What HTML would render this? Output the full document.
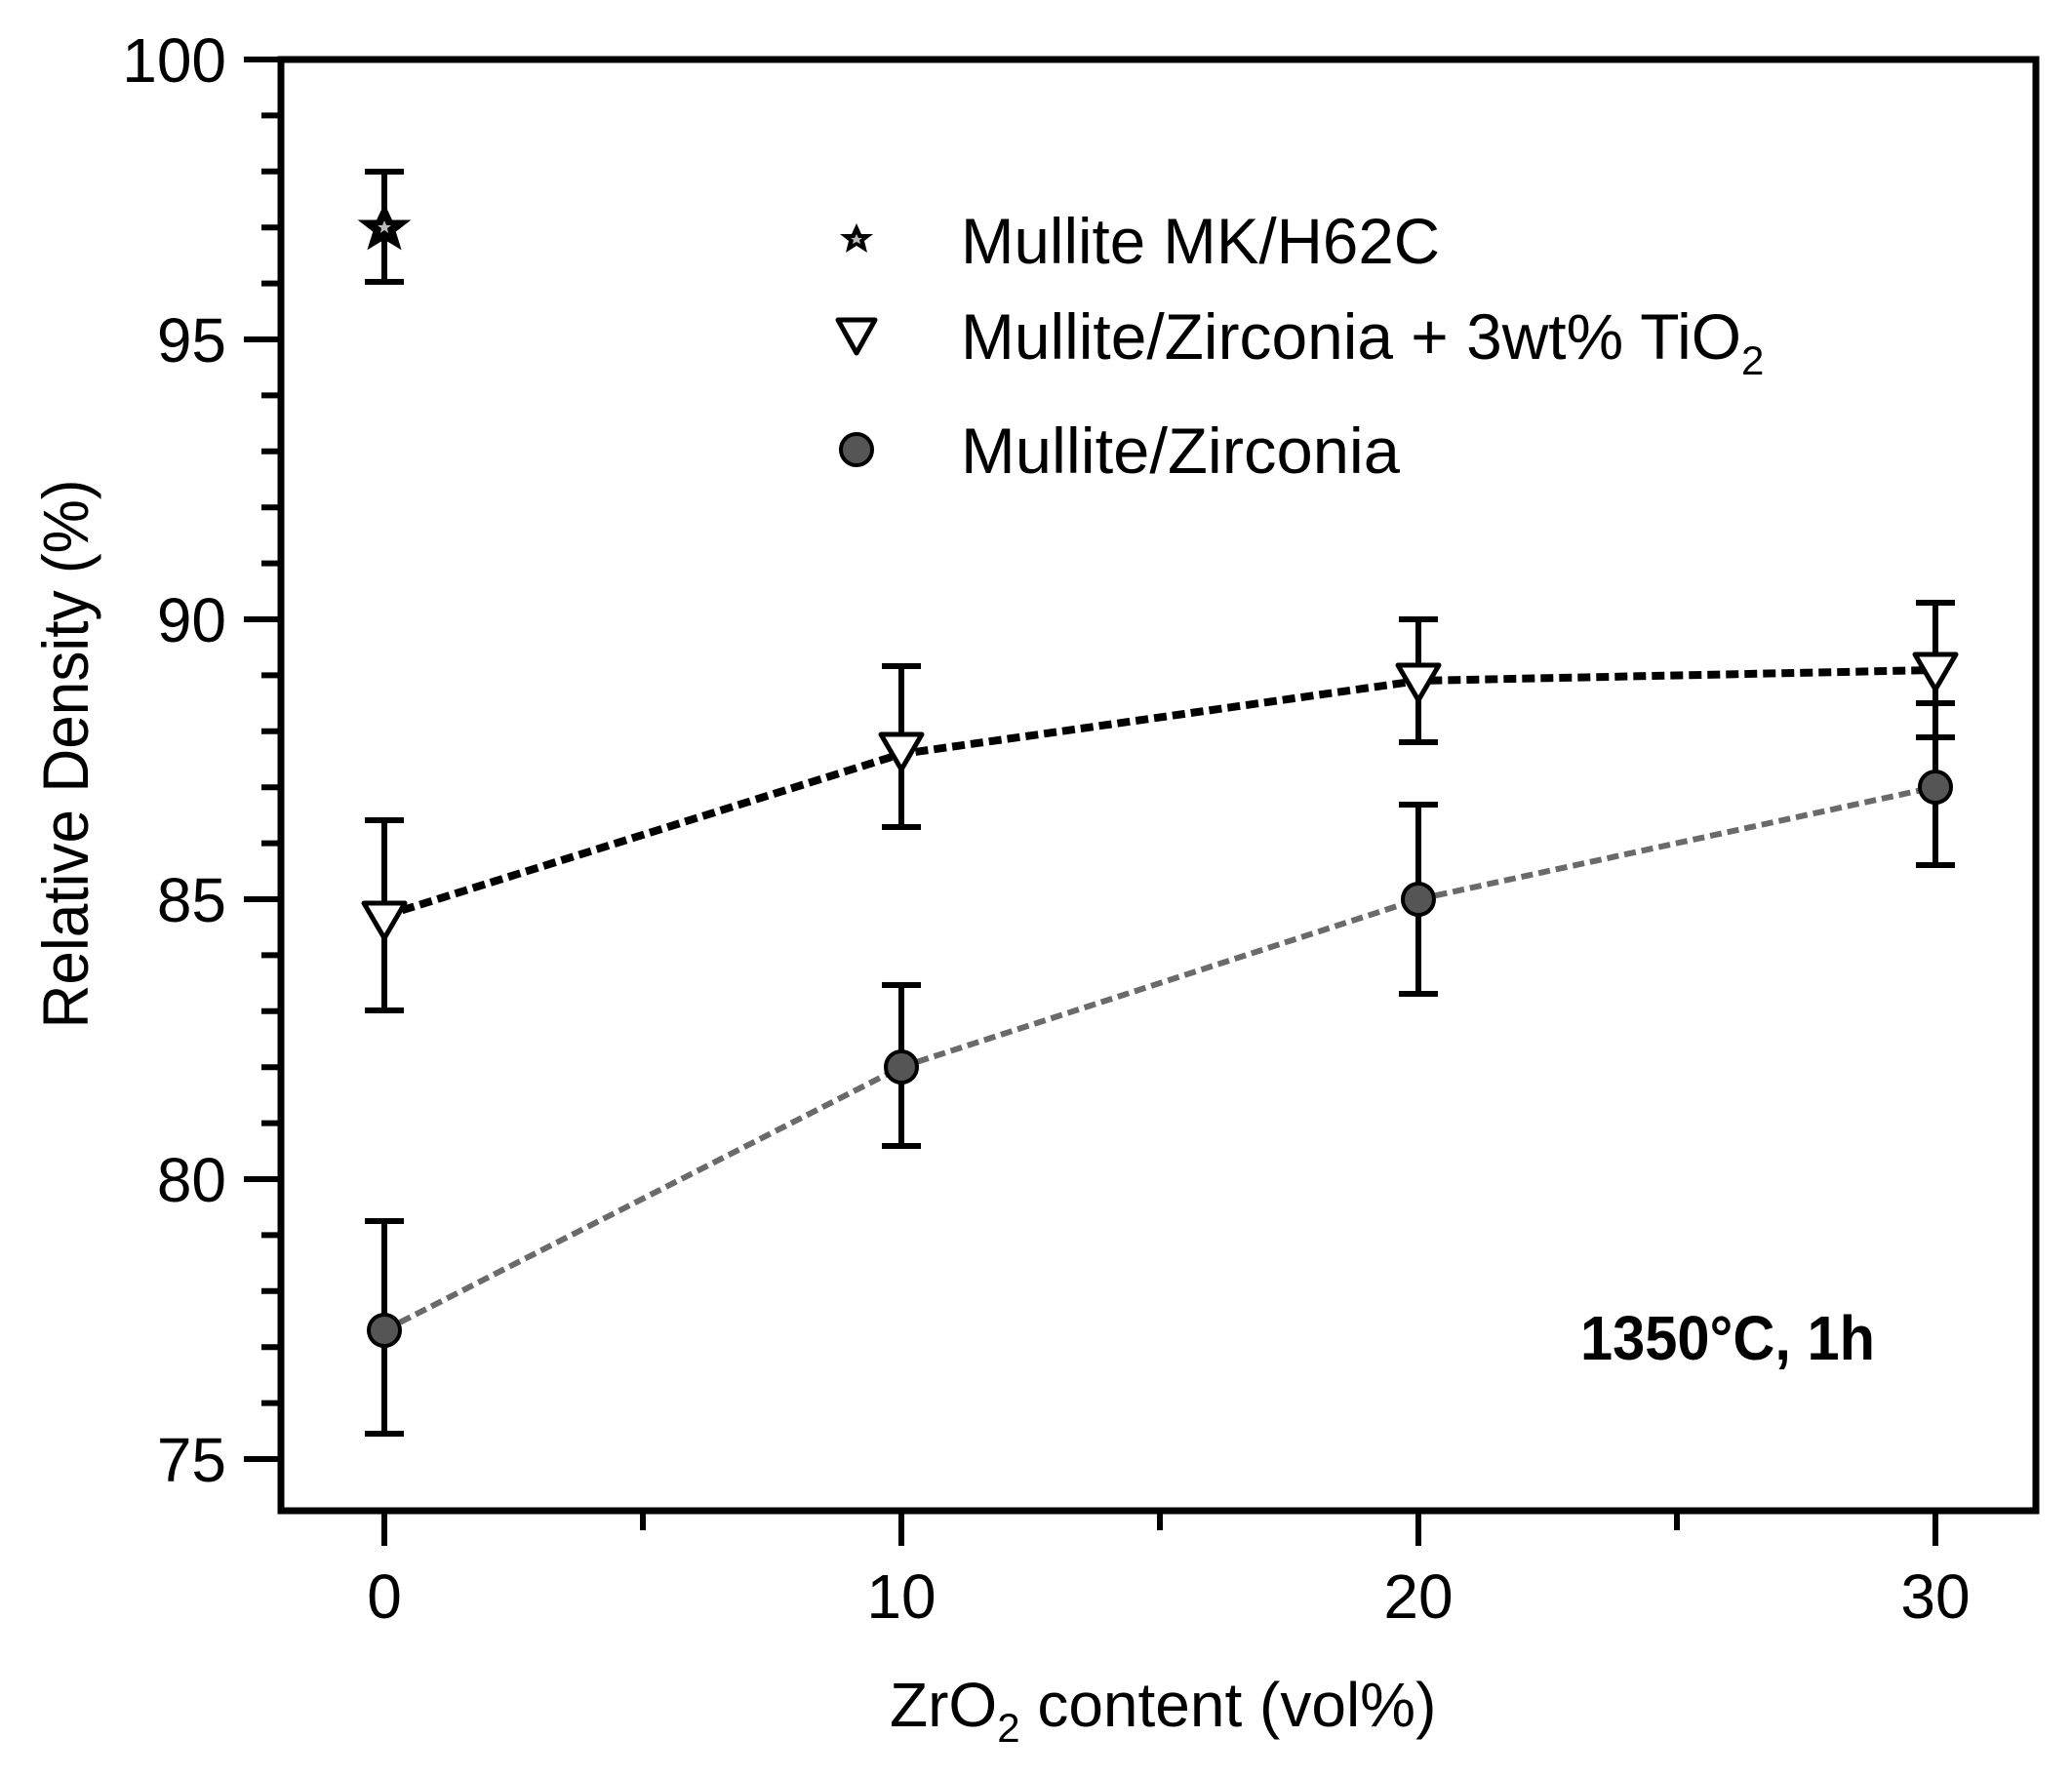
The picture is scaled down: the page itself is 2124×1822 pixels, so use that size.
<!DOCTYPE html>
<html><head><meta charset="utf-8"><style>
html,body{margin:0;padding:0;background:#fff;}
svg{display:block;}
text{font-family:"Liberation Sans",sans-serif;fill:#000;}
</style></head><body>
<svg width="2124" height="1822" viewBox="0 0 2124 1822" xmlns="http://www.w3.org/2000/svg">
<rect width="2124" height="1822" fill="#fff"/>
<rect x="288" y="61" width="1799" height="1488" fill="none" stroke="#000" stroke-width="7"/>
<g stroke="#000" stroke-width="6">
<line x1="250" y1="61" x2="288" y2="61"/>
<line x1="250" y1="348" x2="288" y2="348"/>
<line x1="250" y1="635" x2="288" y2="635"/>
<line x1="250" y1="922" x2="288" y2="922"/>
<line x1="250" y1="1209" x2="288" y2="1209"/>
<line x1="250" y1="1496" x2="288" y2="1496"/>
<line x1="268" y1="118.4" x2="288" y2="118.4"/><line x1="268" y1="175.8" x2="288" y2="175.8"/><line x1="268" y1="233.2" x2="288" y2="233.2"/><line x1="268" y1="290.6" x2="288" y2="290.6"/>
<line x1="268" y1="405.4" x2="288" y2="405.4"/><line x1="268" y1="462.8" x2="288" y2="462.8"/><line x1="268" y1="520.2" x2="288" y2="520.2"/><line x1="268" y1="577.6" x2="288" y2="577.6"/>
<line x1="268" y1="692.4" x2="288" y2="692.4"/><line x1="268" y1="749.8" x2="288" y2="749.8"/><line x1="268" y1="807.2" x2="288" y2="807.2"/><line x1="268" y1="864.6" x2="288" y2="864.6"/>
<line x1="268" y1="979.4" x2="288" y2="979.4"/><line x1="268" y1="1036.8" x2="288" y2="1036.8"/><line x1="268" y1="1094.2" x2="288" y2="1094.2"/><line x1="268" y1="1151.6" x2="288" y2="1151.6"/>
<line x1="268" y1="1266.4" x2="288" y2="1266.4"/><line x1="268" y1="1323.8" x2="288" y2="1323.8"/><line x1="268" y1="1381.2" x2="288" y2="1381.2"/><line x1="268" y1="1438.6" x2="288" y2="1438.6"/>
<line x1="394" y1="1549" x2="394" y2="1585"/>
<line x1="924" y1="1549" x2="924" y2="1585"/>
<line x1="1454" y1="1549" x2="1454" y2="1585"/>
<line x1="1984" y1="1549" x2="1984" y2="1585"/>
<line x1="659" y1="1549" x2="659" y2="1569"/>
<line x1="1189" y1="1549" x2="1189" y2="1569"/>
<line x1="1719" y1="1549" x2="1719" y2="1569"/>
</g>
<g font-size="64" text-anchor="end">
<text x="232" y="84">100</text>
<text x="232" y="371">95</text>
<text x="232" y="658">90</text>
<text x="232" y="945">85</text>
<text x="232" y="1232">80</text>
<text x="232" y="1519">75</text>
</g>
<g font-size="64" text-anchor="middle">
<text x="394" y="1659">0</text>
<text x="924" y="1659">10</text>
<text x="1454" y="1659">20</text>
<text x="1984" y="1659">30</text>
</g>
<text transform="translate(90,773) rotate(-90)" font-size="66" text-anchor="middle" textLength="563" lengthAdjust="spacingAndGlyphs">Relative Density (%)</text>
<text x="912" y="1770" font-size="64">ZrO<tspan font-size="42" dy="16">2</tspan><tspan dy="-16"> content (vol%)</tspan></text>
<text x="1620" y="1394" font-size="64" font-weight="bold" textLength="302" lengthAdjust="spacingAndGlyphs">1350°C, 1h</text>
<polyline points="394,1364 924,1094 1454,922 1984,807" fill="none" stroke="#6a6a6a" stroke-width="6" stroke-dasharray="12,6"/>
<polyline points="394,939 924,773 1454,698 1984,687" fill="none" stroke="#000" stroke-width="8" stroke-dasharray="13,6"/>
<g stroke="#000" stroke-width="6" fill="none">
<path d="M394,176 V289 M374,176 H414 M374,289 H414"/>
<path d="M394,841 V1036 M374,841 H414 M374,1036 H414"/>
<path d="M924,683 V848 M904,683 H944 M904,848 H944"/>
<path d="M1454,635 V761 M1434,635 H1474 M1434,761 H1474"/>
<path d="M1984,618 V756 M1964,618 H2004 M1964,756 H2004"/>
<path d="M394,1252 V1470 M374,1252 H414 M374,1470 H414"/>
<path d="M924,1010 V1175 M904,1010 H944 M904,1175 H944"/>
<path d="M1454,825 V1019 M1434,825 H1474 M1434,1019 H1474"/>
<path d="M1984,721 V887 M1964,721 H2004 M1964,887 H2004"/>
</g>
<g fill="#fff" stroke="#000" stroke-width="5" stroke-linejoin="round">
<polygon points="373,926 415,926 394,962"/>
<polygon points="903,753 945,753 924,789"/>
<polygon points="1433,682 1475,682 1454,718"/>
<polygon points="1963,671 2005,671 1984,707"/>
</g>
<g fill="#555" stroke="#000" stroke-width="4">
<circle cx="394" cy="1364" r="16"/>
<circle cx="924" cy="1094" r="16"/>
<circle cx="1454" cy="922" r="16"/>
<circle cx="1984" cy="807" r="16"/>
</g>
<polygon points="394,212 401,227 417,227 404,237 409,253 394,244 379,253 384,237 371,227 387,227" fill="#000" stroke="#000" stroke-width="3"/>
<polygon points="394,226 396,231 401,231 397,234 398,239 394,236 390,239 391,234 387,231 392,231" fill="#bbb"/>
<polygon points="878,229 883,240 895,240 886,247 889,259 878,252 867,259 870,247 861,240 873,240" fill="#000"/>
<polygon points="878,240 880,244 884,244 881,246 882,250 878,248 874,250 875,246 872,244 876,244" fill="#bbb"/>
<polygon points="859,328 897,328 878,362" fill="#fff" stroke="#000" stroke-width="5" stroke-linejoin="round"/>
<circle cx="878" cy="461" r="16" fill="#555" stroke="#000" stroke-width="4"/>
<g font-size="66">
<text x="985" y="270" textLength="491" lengthAdjust="spacingAndGlyphs">Mullite MK/H62C</text>
<text x="985" y="368"><tspan textLength="800" lengthAdjust="spacingAndGlyphs">Mullite/Zirconia + 3wt% TiO</tspan><tspan font-size="42" dy="16">2</tspan></text>
<text x="985" y="485" textLength="450" lengthAdjust="spacingAndGlyphs">Mullite/Zirconia</text>
</g>
</svg>
</body></html>
